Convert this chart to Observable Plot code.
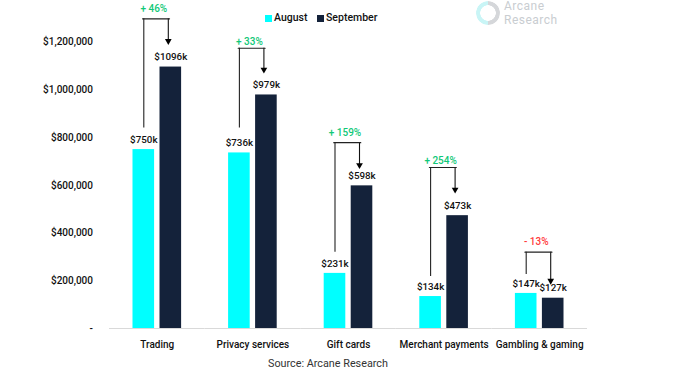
<!DOCTYPE html>
<html>
<head>
<meta charset="utf-8">
<script src="https://cdn.jsdelivr.net/npm/d3@7"></script>
<script src="https://cdn.jsdelivr.net/npm/@observablehq/plot@0.6"></script>
<style>
  html, body { margin: 0; padding: 0; background: #fff; }
  #wrap { position: relative; width: 673px; height: 373px; overflow: hidden; font-family: Roboto, sans-serif; color: #111; }
  #wrap svg { display: block; }
  .abs { position: absolute; white-space: nowrap; line-height: 1; }
  .sw { position: absolute; width: 7px; height: 7px; top: 15px; }
  .logo { font-size: 12px; letter-spacing: .5px; color: #c9cdd1; left: 504px; }
</style>
</head>
<body>
<div id="wrap">
  <div class="sw" style="left:265px;background:#00ffff"></div>
  <div class="abs" style="left:274px;top:13px;font-size:10.5px;font-weight:500">August</div>
  <div class="sw" style="left:317px;background:#14223a"></div>
  <div class="abs" style="left:326px;top:13px;font-size:10.5px;font-weight:500">September</div>
  <div class="abs" style="left:476px;top:1px;width:24px;height:24px;border-radius:50%;background:conic-gradient(#d5d7da 0 50%,#c9f5f6 50% 100%);-webkit-mask:radial-gradient(circle,transparent 7.5px,#000 8px)"></div>
  <div class="abs logo" style="top:0px">Arcane</div>
  <div class="abs logo" style="top:14.2px">Research</div>
  <div class="abs" style="left:268px;top:359px;font-size:10.8px;color:#333">Source: Arcane Research</div>
</div>
<script>
const categories = ["Trading", "Privacy services", "Gift cards", "Merchant payments", "Gambling & gaming"];
const seriesNames = ["August", "September"];
const august = [750000, 736000, 231000, 134000, 147000];
const september = [1096000, 979000, 598000, 473000, 127000];
const augustLabels = ["$750k", "$736k", "$231k", "$134k", "$147k"];
const septemberLabels = ["$1096k", "$979k", "$598k", "$473k", "$127k"];
const changes = ["+ 46%", "+ 33%", "+ 159%", "+ 254%", "- 13%"];
const bracketTop = [1298000, 1175000, 779000, 675000, 320000];
const bracketStart = [840000, 840000, 320000, 218000, 226000];
const bracketEnd = [1205000, 1085000, 685000, 582000, 200000];
const changeLabelAt = [1339000, 1200000, 819000, 704000, 362000];
const yTicks = [0, 200000, 400000, 600000, 800000, 1000000, 1200000];

const bars = categories.flatMap((c, i) => [
  {category: c, series: "August", value: august[i], label: augustLabels[i]},
  {category: c, series: "September", value: september[i], label: septemberLabels[i]}
]);
const notes = categories.map((c, i) => ({
  category: c, change: changes[i], top: bracketTop[i], start: bracketStart[i],
  end: bracketEnd[i], labelAt: changeLabelAt[i], up: !changes[i].startsWith("-")
}));

const font = "Roboto, sans-serif";
const chart = Plot.plot({
  width: 673,
  height: 373,
  marginLeft: 109,
  marginRight: 86,
  marginTop: 0,
  marginBottom: 45,
  style: {fontFamily: font, background: "transparent", overflow: "visible"},
  fx: {domain: categories, padding: 0, round: false, label: null},
  x: {domain: seriesNames, paddingInner: 0.2, paddingOuter: 0.87, round: false, label: null},
  y: {domain: [0, 1375000], label: null},
  color: {domain: seriesNames, range: ["#00ffff", "#14223a"]},
  marks: [
    Plot.axisY({
      ticks: yTicks,
      tickSize: 0,
      tickPadding: 16.5,
      label: null,
      fontSize: 10,
      fontWeight: 500,
      fill: "#111",
      tickFormat: d => d === 0 ? "-" : "$" + d3.format(",")(d)
    }),
    Plot.axisFx({
      anchor: "bottom",
      tickSize: 0,
      tickPadding: 12,
      label: null,
      fontSize: 10,
      fontWeight: 500,
      fill: "#111"
    }),
    Plot.axisX({ticks: []}),
    Plot.barY(bars, {fx: "category", x: "series", y: "value", fill: "series"}),
    Plot.ruleY([0], {stroke: "#d9d9d9", strokeWidth: 1}),
    Plot.text(bars, {
      fx: "category", x: "series", y: "value", text: "label",
      dy: -10, fontSize: 9.8, fontWeight: 500, fill: "#111"
    }),
    // bracket: up from the August bar, across, down to the September bar
    Plot.ruleX(notes, {fx: "category", x: () => "August", y1: "start", y2: "top", stroke: "#222", strokeWidth: 1.1}),
    Plot.ruleX(notes, {fx: "category", x: () => "September", y1: "top", y2: "end", stroke: "#111", strokeWidth: 1.1, dx: -2.5}),
    Plot.line(notes.flatMap(n => seriesNames.map(s => ({...n, series: s}))), {
      fx: "category", x: "series", y: "top", z: "category", stroke: "#222", strokeWidth: 1.1, dx: -1.25
    }),
    Plot.dot(notes, {
      fx: "category", x: () => "September", y: "end", symbol: "triangle2", r: 3.2,
      rotate: 180, fill: "#000", dx: -2.5
    }),
    Plot.text(notes, {
      fx: "category", x: () => "August", y: "labelAt", text: "change", dx: 10,
      fontSize: 10, fontWeight: 500, fill: d => d.up ? "#10c878" : "#ff3b3b"
    })
  ]
});
document.getElementById("wrap").prepend(chart);
</script>
</body>
</html>
